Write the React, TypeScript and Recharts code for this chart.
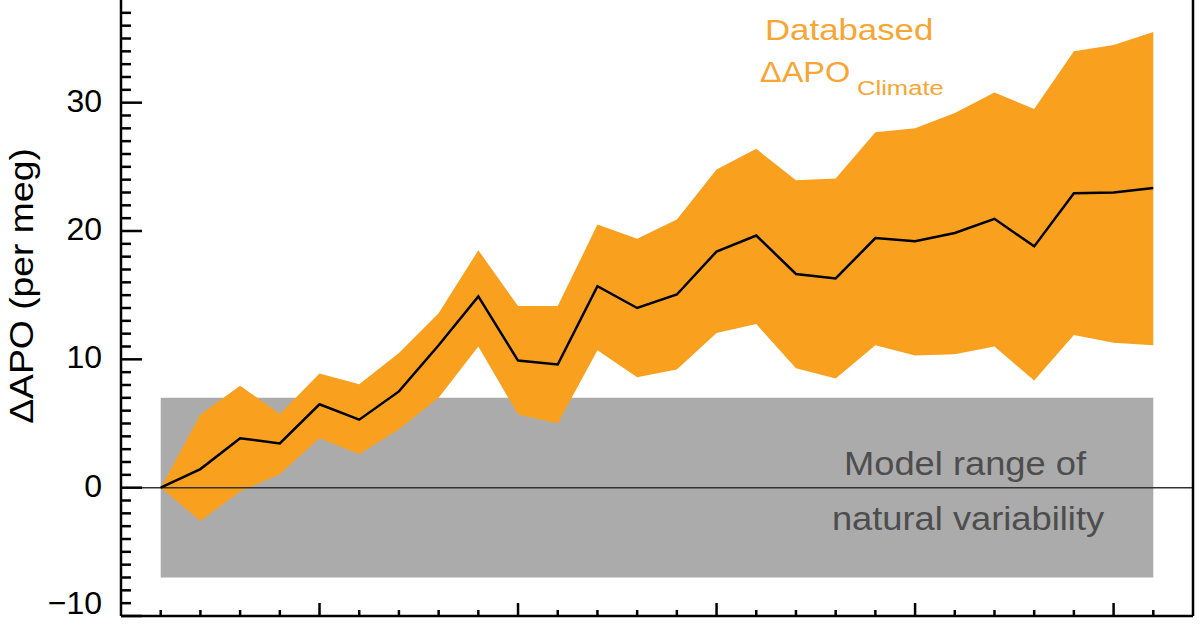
import { ComposedChart, Area, Line, XAxis, YAxis, ReferenceArea, ReferenceLine } from 'recharts';

// annual values, 1991–2016 (per meg)
const years = [
  1991, 1992, 1993, 1994, 1995, 1996, 1997, 1998, 1999, 2000, 2001, 2002, 2003,
  2004, 2005, 2006, 2007, 2008, 2009, 2010, 2011, 2012, 2013, 2014, 2015, 2016,
];
const apoMean = [
  0, 1.45, 3.85, 3.45, 6.5, 5.3, 7.5, 11.1, 14.9, 9.9, 9.6, 15.7, 14.0,
  15.05, 18.4, 19.65, 16.65, 16.3, 19.45, 19.2, 19.85, 20.95, 18.8, 22.95, 23.0, 23.35,
];
const apoLow = [
  0, -2.6, -0.3, 1.05, 3.85, 2.6, 4.55, 7.0, 11.0, 5.7, 5.0, 10.7, 8.6,
  9.2, 12.05, 12.75, 9.3, 8.5, 11.1, 10.3, 10.4, 11.0, 8.35, 11.9, 11.3, 11.1,
];
const apoHigh = [
  0, 5.7, 7.95, 5.75, 8.9, 8.05, 10.5, 13.6, 18.5, 14.15, 14.15, 20.5, 19.4,
  20.9, 24.8, 26.4, 23.95, 24.1, 27.7, 28.0, 29.2, 30.8, 29.5, 34.0, 34.5, 35.5,
];

// model range of natural variability
const naturalRange = [-7, 7];

const yLabelTicks = [-10, 0, 10, 20, 30];
const yTicks = Array.from({ length: 48 }, (_, i) => i - 10);
const xMajorTicks = [1995, 2000, 2005, 2010, 2015];

const rows = years.map((year, i) => ({
  year,
  mean: apoMean[i],
  band: [apoLow[i], apoHigh[i]],
}));

const FONT = '"Liberation Sans", Arial, Helvetica, sans-serif';
const ORANGE = '#F9A11F';
const TICK_W = 2.5;

function BottomTick({ x, y, payload }: any) {
  const len = xMajorTicks.includes(payload.value) ? 13 : 6;
  return <line x1={x} y1={y} x2={x} y2={y - len} stroke="#000" strokeWidth={TICK_W} />;
}

function LeftTick({ x, y, payload }: any) {
  const v = payload.value;
  const major = v % 10 === 0;
  return (
    <g>
      <line x1={x} y1={y} x2={x + (major ? 21 : 10)} y2={y} stroke="#000" strokeWidth={TICK_W} />
      {yLabelTicks.includes(v) && (
        <text
          x={x - 19}
          y={y + (v === -10 ? -13 : -2)}
          textAnchor="end"
          dominantBaseline="central"
          fontSize={32}
          fontFamily={FONT}
          fill="#000"
        >
          {v < 0 ? `\u2212${Math.abs(v)}` : v}
        </text>
      )}
    </g>
  );
}

function RightTick({ x, y, payload }: any) {
  const len = payload.value % 10 === 0 ? 20 : 10;
  return <line x1={x} y1={y} x2={x - len} y2={y} stroke="#000" strokeWidth={TICK_W} />;
}

export default function App() {
  return (
    <div style={{ position: 'relative', width: 1200, height: 630, background: '#fff' }}>
      <style>{`body{margin:0}`}</style>
      <ComposedChart width={1200} height={630} data={rows} margin={{ top: 0, right: 0, bottom: 0, left: 0 }}>
        <XAxis
          dataKey="year"
          type="number"
          domain={[1990, 2017]}
          ticks={years}
          interval={0}
          height={14}
          tickSize={0}
          tickMargin={0}
          tickLine={false}
          axisLine={{ stroke: '#000', strokeWidth: 2.5 }}
          tick={BottomTick}
        />
        <YAxis
          yAxisId="l"
          type="number"
          domain={[-10, 38]}
          ticks={yTicks}
          interval={0}
          width={121}
          tickSize={0}
          tickMargin={0}
          tickLine={false}
          axisLine={{ stroke: '#000', strokeWidth: 2.5 }}
          tick={LeftTick}
        />
        <YAxis
          yAxisId="r"
          orientation="right"
          type="number"
          domain={[-10, 38]}
          ticks={yTicks}
          interval={0}
          width={7}
          tickSize={0}
          tickMargin={0}
          tickLine={false}
          axisLine={{ stroke: '#000', strokeWidth: 2.5 }}
          tick={RightTick}
        />
        <ReferenceArea
          yAxisId="l"
          x1={years[0]}
          x2={years[years.length - 1]}
          y1={naturalRange[0]}
          y2={naturalRange[1]}
          fill="#ABABAB"
          fillOpacity={1}
          stroke="none"
        />
        <Area
          yAxisId="l"
          type="linear"
          dataKey="band"
          fill={ORANGE}
          fillOpacity={1}
          stroke="none"
          isAnimationActive={false}
        />
        <ReferenceLine yAxisId="l" y={0} stroke="#333" strokeWidth={1.5} />
        <Line
          yAxisId="l"
          type="linear"
          dataKey="mean"
          stroke="#000"
          strokeWidth={2.5}
          dot={false}
          isAnimationActive={false}
        />
      </ComposedChart>
      <svg
        width={1200}
        height={630}
        style={{ position: 'absolute', left: 0, top: 0, pointerEvents: 'none' }}
        fontFamily={FONT}
      >
        <g transform="translate(33,286) rotate(-90) scale(1.13,1)">
          <text x={0} y={0} textAnchor="middle" fontSize={33} fill="#000">
            ΔAPO (per meg)
          </text>
        </g>
        <text transform="translate(765,40) scale(1.2,1)" fontSize={29} fill="#F8A532">
          Databased
        </text>
        <text transform="translate(760,82) scale(1.12,1)" fontSize={29} fill="#F8A532">
          ΔAPO
        </text>
        <text transform="translate(857,95) scale(1.22,1)" fontSize={21} fill="#F8A532">
          Climate
        </text>
        <text transform="translate(965,475) scale(1.1,1)" textAnchor="middle" fontSize={33} fill="#4d4d4d">
          Model range of
        </text>
        <text transform="translate(968,530) scale(1.1,1)" textAnchor="middle" fontSize={33} fill="#4d4d4d">
          natural variability
        </text>
      </svg>
    </div>
  );
}
